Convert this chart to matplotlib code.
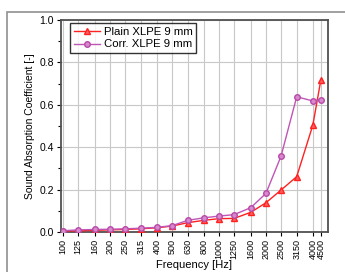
import matplotlib
matplotlib.use('Agg')
import matplotlib.pyplot as plt
from matplotlib.patches import Rectangle
from matplotlib.ticker import FixedLocator, NullLocator, MultipleLocator

plt.rcParams['font.family'] = ['Liberation Sans', 'DejaVu Sans']

# Frequency bands and measured absorption coefficients
freqs = [100, 125, 160, 200, 250, 315, 400, 500, 630, 800, 1000, 1250,
         1600, 2000, 2500, 3150, 4000, 4500]
freq_labels = [str(f) for f in freqs]
plain = [0.005, 0.005, 0.008, 0.010, 0.012, 0.015, 0.020, 0.028, 0.044,
         0.055, 0.063, 0.064, 0.093, 0.138, 0.198, 0.261, 0.505, 0.717]
corr = [0.006, 0.010, 0.012, 0.013, 0.015, 0.018, 0.022, 0.030, 0.055,
        0.067, 0.075, 0.082, 0.115, 0.182, 0.358, 0.638, 0.618, 0.624]

fig = plt.figure(figsize=(3.45, 2.72), dpi=100)
ax = fig.add_axes([61 / 345, 1 - 232 / 272, 267 / 345, 212 / 272])

# outer gray frame (cropped on right and bottom)
fig.patches.append(Rectangle((7 / 345, -0.2), 1.2, 0.2 + 1 - 12 / 272,
                             transform=fig.transFigure, fill=False,
                             edgecolor='#909090', linewidth=1.2, zorder=0))

ax.plot(freqs, plain, color='#ff2020', marker='^', markersize=4.5,
        markerfacecolor='#ff6060', markeredgecolor='#ff2020', linewidth=1.0,
        label='Plain XLPE 9 mm', zorder=3)
ax.plot(freqs, corr, color='#c055b5', marker='o', markersize=4,
        markerfacecolor='#d888cc', markeredgecolor='#b84aa8', linewidth=1.0,
        label='Corr. XLPE 9 mm', zorder=3)

ax.set_xscale('log')
ax.set_xlim(97, 5000)
ax.set_ylim(0, 1.0)
ax.xaxis.set_major_locator(FixedLocator(freqs))
ax.xaxis.set_minor_locator(NullLocator())
ax.set_xticklabels(freq_labels, rotation=90, fontsize=6.5)
ax.yaxis.set_major_locator(MultipleLocator(0.2))
ax.yaxis.set_minor_locator(MultipleLocator(0.1))
ax.set_yticklabels([f'{v:.1f}' for v in ax.get_yticks()], fontsize=7.5)

ax.tick_params(axis='both', which='major', length=3, width=0.8, pad=2)
ax.tick_params(axis='y', which='minor', length=2, width=0.8)
ax.grid(True, which='major', color='#c8c8c8', linewidth=0.8)
ax.set_axisbelow(True)

for s in ax.spines.values():
    s.set_color('#505050')
    s.set_linewidth(1.3)

ax.set_xlabel('Frequency [Hz]', fontsize=8, labelpad=1)
ax.set_ylabel('Sound Absorption Coefficient [-]', fontsize=7.5, labelpad=3)

leg = ax.legend(loc='upper left', bbox_to_anchor=(9 / 267, 1 - 3 / 212),
                fontsize=8.2, frameon=True, fancybox=False,
                borderpad=0.35, labelspacing=0.22, handlelength=2.3,
                handletextpad=0.3, borderaxespad=0)
leg.get_frame().set_edgecolor('black')
leg.get_frame().set_linewidth(1.0)

fig.savefig('out.png', dpi=100)
